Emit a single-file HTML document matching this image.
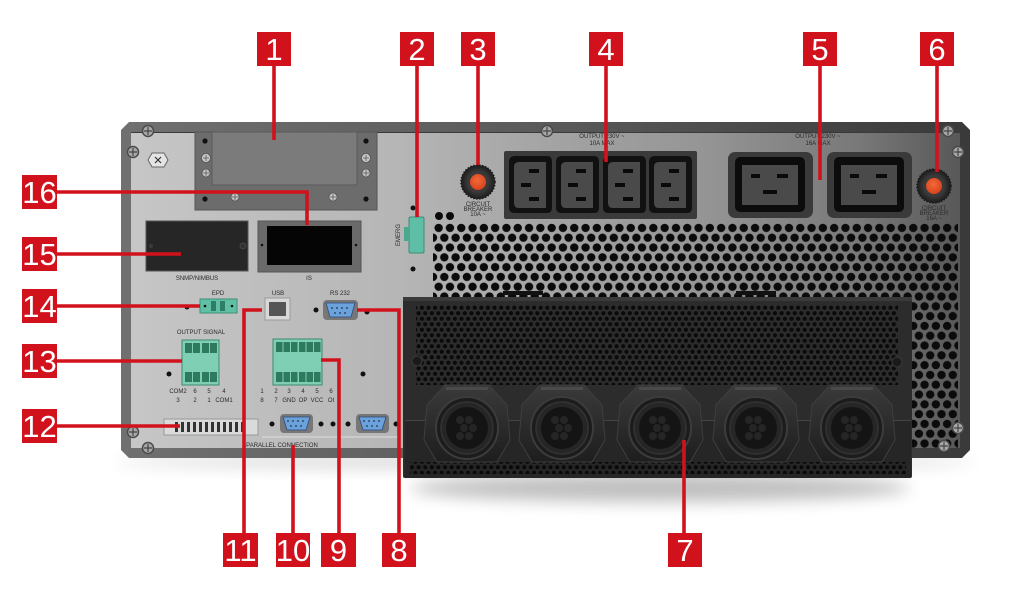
<!DOCTYPE html>
<html><head><meta charset="utf-8"><style>
html,body{margin:0;padding:0;background:#fff;}
svg{display:block;}
.lb{font-family:"Liberation Sans Narrow","Liberation Sans",sans-serif;font-size:31px;fill:#fff;text-anchor:middle;}
.t{font-family:"Liberation Sans Narrow","Liberation Sans",sans-serif;font-size:6px;fill:#2a2a2a;text-anchor:middle;}
</style></head><body>
<svg width="1024" height="605" viewBox="0 0 1024 605" xmlns="http://www.w3.org/2000/svg">
<defs>
<linearGradient id="face" x1="131" y1="0" x2="960" y2="0" gradientUnits="userSpaceOnUse">
<stop offset="0" stop-color="#c6c6c6"/><stop offset="0.32" stop-color="#b6b6b6"/><stop offset="0.5" stop-color="#a4a4a4"/><stop offset="0.69" stop-color="#959595"/><stop offset="0.88" stop-color="#787878"/><stop offset="1" stop-color="#585858"/>
</linearGradient>
<linearGradient id="frame" x1="121" y1="0" x2="970" y2="0" gradientUnits="userSpaceOnUse">
<stop offset="0" stop-color="#707070"/><stop offset="0.5" stop-color="#5a5a5a"/><stop offset="1" stop-color="#3a3a3a"/>
</linearGradient>
<pattern id="hc" x="433" y="223" width="11.3" height="19.6" patternUnits="userSpaceOnUse">
<circle cx="5.65" cy="4.9" r="4.2" fill="#0b0b0b"/><circle cx="0" cy="14.7" r="4.2" fill="#0b0b0b"/><circle cx="11.3" cy="14.7" r="4.2" fill="#0b0b0b"/>
</pattern>
<pattern id="sh" x="412" y="305" width="6.6" height="11" patternUnits="userSpaceOnUse">
<circle cx="3.3" cy="2.75" r="2.1" fill="#0a0a0a"/><circle cx="0" cy="8.25" r="2.1" fill="#0a0a0a"/><circle cx="6.6" cy="8.25" r="2.1" fill="#0a0a0a"/>
</pattern>
<filter id="blur" x="-20%" y="-100%" width="140%" height="300%"><feGaussianBlur stdDeviation="8"/></filter>
<radialGradient id="knob" cx="0.5" cy="0.5" r="0.5"><stop offset="0.6" stop-color="#3a3a3a"/><stop offset="1" stop-color="#1c1c1c"/></radialGradient>
<radialGradient id="orange" cx="0.45" cy="0.4" r="0.6"><stop offset="0" stop-color="#f26a3a"/><stop offset="1" stop-color="#d8421c"/></radialGradient>
<linearGradient id="nut" x1="0" y1="0" x2="0" y2="1"><stop offset="0" stop-color="#3a3a3a"/><stop offset="1" stop-color="#1e1e1e"/></linearGradient>
</defs>

<!-- shadows -->
<ellipse cx="545" cy="462" rx="430" ry="6" fill="#000" opacity="0.18" filter="url(#blur)"/>
<ellipse cx="660" cy="488" rx="250" ry="14" fill="#000" opacity="0.25" filter="url(#blur)"/>

<!-- panel -->
<path d="M129,122 L962,122 L970,130 L970,450 L962,458 L129,458 L121,450 L121,130 Z" fill="url(#frame)"/>
<rect x="131" y="132" width="829" height="316" fill="url(#face)"/>
<line x1="131" y1="132.5" x2="960" y2="132.5" stroke="#3a3a3a" stroke-width="1"/>

<!-- honeycomb vents -->
<path d="M433,223 L958,223 L958,448 L912,448 L912,297 L433,297 Z" fill="url(#hc)"/>
<circle cx="439" cy="216" r="4" fill="#0b0b0b"/><circle cx="450" cy="216" r="4" fill="#0b0b0b"/>
<rect x="503" y="291" width="40" height="4" fill="#111"/><rect x="736" y="291" width="40" height="4" fill="#111"/>

<!-- screws -->
<g fill="#a8a8a8" stroke="#4a4a4a" stroke-width="1.5">
<circle cx="148" cy="131" r="5.5"/><circle cx="133" cy="152" r="5.5"/><circle cx="547" cy="131" r="5.5"/>
<circle cx="948" cy="131" r="5.5"/><circle cx="958" cy="152" r="5.5"/><circle cx="958" cy="428" r="5.5"/><circle cx="944" cy="446" r="5.5"/>
<circle cx="133" cy="432" r="5.5"/><circle cx="148" cy="448" r="5.5"/>
</g>
<g stroke="#444" stroke-width="1.2">
<path d="M144,131h8M148,127v8M129,152h8M133,148v8M543,131h8M547,127v8M944,131h8M948,127v8M954,152h8M958,148v8M954,428h8M958,424v8M940,446h8M944,442v8M129,432h8M133,428v8M144,448h8M148,444v8"/>
</g>
<!-- hex bolt -->
<polygon points="152,153 164,153 168,160 164,167 152,167 148,160" fill="#e4e4e4" stroke="#666" stroke-width="1"/>
<path d="M155,157l6,6M161,157l-6,6" stroke="#333" stroke-width="1.2"/>

<!-- module 1 plate -->
<rect x="195" y="132" width="182" height="78" fill="#6c6c6c" stroke="#555" stroke-width="1"/>
<rect x="212" y="132" width="145" height="53" fill="#7b7b7b" stroke="#5e5e5e" stroke-width="1.2"/>
<g fill="#111"><circle cx="205" cy="141" r="2.6"/><circle cx="366" cy="141" r="2.6"/><circle cx="205" cy="199" r="2.6"/><circle cx="366" cy="199" r="2.6"/></g>
<g fill="#c8c8c8" stroke="#555" stroke-width="0.8">
<circle cx="206" cy="158" r="4.5"/><circle cx="206" cy="173" r="4"/><circle cx="366" cy="158" r="4.5"/><circle cx="366" cy="173" r="4"/><circle cx="235" cy="197" r="4"/><circle cx="333" cy="197" r="4"/>
</g>
<g stroke="#555" stroke-width="0.8"><path d="M203,158h6M206,155v6M363,158h6M366,155v6M232,197h6M235,194v6M330,197h6M333,194v6M203,173h6M206,170v6M363,173h6M366,170v6"/></g>

<!-- SNMP slot -->
<rect x="146" y="221" width="102" height="50" fill="#262626" stroke="#555" stroke-width="1"/>
<circle cx="151" cy="246" r="2" fill="#3a3a3a"/><circle cx="243" cy="246" r="3" fill="#333" stroke="#444"/>
<text class="t" x="197" y="280">SNMP/NIMBUS</text>
<!-- IS slot -->
<rect x="258" y="221" width="103" height="51" fill="#6a6a6a" stroke="#555" stroke-width="1"/>
<rect x="267" y="226" width="85" height="39" fill="#050505"/>
<circle cx="262" cy="245" r="1.3" fill="#111"/><circle cx="356" cy="245" r="1.3" fill="#111"/>
<text class="t" x="309" y="280">IS</text>

<!-- green connector 2 -->
<rect x="409" y="217" width="15" height="36" rx="1.5" fill="#5fbfa6" stroke="#3d8c76" stroke-width="1"/>
<rect x="404" y="227" width="6" height="14" fill="#4aa88f"/>
<text class="t" transform="translate(400,235) rotate(-90)" font-size="5">EMERG</text>
<circle cx="413" cy="208" r="2.5" fill="#111"/><circle cx="413" cy="269" r="2.5" fill="#111"/>

<!-- breaker 3 -->
<circle cx="478" cy="182" r="17" fill="url(#knob)" stroke="#1a1a1a" stroke-width="1.5" stroke-dasharray="1.5 1.5"/>
<circle cx="478" cy="182" r="8" fill="url(#orange)"/>
<text class="t" x="478" y="206" font-size="4.5">CIRCUIT</text>
<text class="t" x="478" y="211" font-size="4.5">BREAKER</text>
<text class="t" x="478" y="216" font-size="4.5">10A ~</text>

<!-- output text -->
<text class="t" x="602" y="138" font-size="5.5">OUTPUT 230V ~</text>
<text class="t" x="602" y="145" font-size="5.5">10A MAX</text>
<text class="t" x="818" y="138" font-size="5.5">OUTPUT 230V ~</text>
<text class="t" x="818" y="145" font-size="5.5">16A MAX</text>

<!-- C13 block -->
<rect x="504" y="151" width="193" height="68" rx="2" fill="#3a3a3a"/>
<g>
<g id="c13">
<path d="M509,162 Q509,156 515,156 L547,156 Q552,156 552,162 L552,208 Q552,213 547,213 L515,213 Q509,213 509,208 Z" fill="#111"/>
<path d="M519,162 L546,162 L546,208 L519,208 Q514,208 514,203 L514,167 Q514,162 519,162 Z" fill="#4a4a4a"/>
<rect x="529" y="169" width="10" height="4" fill="#0a0a0a"/><rect x="521" y="183" width="10" height="4" fill="#0a0a0a"/><rect x="529" y="197" width="10" height="4" fill="#0a0a0a"/>
</g>
<use href="#c13" x="47"/><use href="#c13" x="94"/><use href="#c13" x="140"/>
</g>

<!-- C19 -->
<g id="c19">
<rect x="728" y="152" width="85" height="66" rx="7" fill="#3a3a3a"/>
<rect x="735" y="157" width="70" height="55" rx="5" fill="#0c0c0c"/>
<rect x="742" y="165" width="56" height="40" fill="#4a4a4a"/>
<rect x="751" y="174" width="9" height="4" fill="#0a0a0a"/><rect x="777" y="174" width="11" height="4" fill="#0a0a0a"/><rect x="763" y="190" width="14" height="4" fill="#0a0a0a"/>
</g>
<use href="#c19" x="99"/>

<!-- breaker 6 -->
<circle cx="934" cy="186" r="17" fill="url(#knob)" stroke="#1a1a1a" stroke-width="1.5" stroke-dasharray="1.5 1.5"/>
<circle cx="934" cy="186" r="8" fill="url(#orange)"/>
<text class="t" x="934" y="210" font-size="4.5">CIRCUIT</text>
<text class="t" x="934" y="215" font-size="4.5">BREAKER</text>
<text class="t" x="934" y="220" font-size="4.5">16A ~</text>

<!-- black cover 7 -->
<rect x="403" y="297" width="509" height="181" rx="2" fill="#2c2c2c"/>
<rect x="403" y="297" width="509" height="4" fill="#3a3a3a"/>
<rect x="416" y="305" width="482" height="80" fill="url(#sh)"/>
<circle cx="417" cy="361" r="5" fill="#1a1a1a" stroke="#3a3a3a"/><circle cx="897" cy="362" r="5" fill="#1a1a1a" stroke="#3a3a3a"/>
<rect x="405" y="420" width="506" height="58" fill="#262626"/>
<line x1="405" y1="420.5" x2="911" y2="420.5" stroke="#444" stroke-width="1"/>
<rect x="410" y="462" width="496" height="12" fill="url(#sh)"/>

<!-- glands -->
<g id="gl">
<polygon points="445,385 489,385 507,405 510,440 497,462 437,462 424,440 427,405" fill="url(#nut)" stroke="#3e3e3e" stroke-width="1"/>
<rect x="446" y="387" width="42" height="3" fill="#4a4a4a"/>
<circle cx="467" cy="428" r="31" fill="#1c1c1c" stroke="#3c3c3c" stroke-width="2"/>
<circle cx="467" cy="428" r="26" fill="#262626" stroke="#333" stroke-width="1.5"/>
<circle cx="467" cy="428" r="21" fill="#141414"/>
<g fill="#252525"><circle cx="460" cy="420" r="4"/><circle cx="469" cy="420" r="4"/><circle cx="464" cy="428" r="4"/><circle cx="473" cy="428" r="4"/><circle cx="460" cy="436" r="4"/><circle cx="469" cy="436" r="4"/></g>
</g>
<use href="#gl" x="95"/><use href="#gl" x="193"/><use href="#gl" x="289"/><use href="#gl" x="385"/>

<!-- left panel controls -->
<text class="t" x="218" y="295">EPD</text>
<text class="t" x="278" y="295">USB</text>
<text class="t" x="340" y="295">RS 232</text>
<circle cx="187" cy="307" r="2.5" fill="#111"/>
<rect x="200" y="299" width="37" height="14" fill="#5fc0a5" stroke="#3e8f77" stroke-width="1"/>
<rect x="211" y="301" width="5" height="10" fill="#2f7d65"/><rect x="220" y="301" width="5" height="10" fill="#2f7d65"/>
<circle cx="205" cy="306" r="1.3" fill="#111"/><circle cx="232" cy="306" r="1.3" fill="#111"/>
<rect x="265" y="298" width="25" height="22" fill="#d8d8d8" stroke="#999" stroke-width="1"/>
<rect x="269" y="302" width="17" height="14" fill="#555"/>
<circle cx="316" cy="310" r="2.5" fill="#111"/>
<rect x="323" y="300" width="35" height="20" rx="4" fill="#777"/>
<path d="M326,303 L355,303 L351,317 L330,317 Z" fill="#6ca2dc" stroke="#2c4c78" stroke-width="0.8"/>
<g fill="#234"><circle cx="332" cy="308" r="0.9"/><circle cx="337" cy="308" r="0.9"/><circle cx="342" cy="308" r="0.9"/><circle cx="347" cy="308" r="0.9"/><circle cx="335" cy="313" r="0.9"/><circle cx="340" cy="313" r="0.9"/><circle cx="345" cy="313" r="0.9"/></g>
<circle cx="367" cy="312" r="2.5" fill="#111"/>

<text class="t" x="201" y="334">OUTPUT SIGNAL</text>
<rect x="182" y="340" width="37" height="45" fill="#7fcfb4" stroke="#3c8a70" stroke-width="1"/>
<g fill="#2e7a5f">
<rect x="185" y="343" width="7" height="10"/><rect x="193" y="343" width="7" height="10"/><rect x="202" y="343" width="7" height="10"/><rect x="210" y="343" width="7" height="10"/>
<rect x="185" y="372" width="7" height="10"/><rect x="193" y="372" width="7" height="10"/><rect x="202" y="372" width="7" height="10"/><rect x="210" y="372" width="7" height="10"/>
</g>
<circle cx="169" cy="374" r="2.5" fill="#111"/>
<text class="t" x="178" y="393" font-size="5">COM2</text><text class="t" x="195" y="393" font-size="5">6</text><text class="t" x="209" y="393" font-size="5">5</text><text class="t" x="224" y="393" font-size="5">4</text>
<text class="t" x="178" y="402" font-size="5">3</text><text class="t" x="195" y="402" font-size="5">2</text><text class="t" x="209" y="402" font-size="5">1</text><text class="t" x="224" y="402" font-size="5">COM1</text>
<rect x="273" y="339" width="49" height="46" fill="#7fcfb4" stroke="#3c8a70" stroke-width="1"/>
<g fill="#2e7a5f">
<rect x="276" y="342" width="6.5" height="10"/><rect x="283.5" y="342" width="6.5" height="10"/><rect x="291" y="342" width="6.5" height="10"/><rect x="299" y="342" width="6.5" height="10"/><rect x="306.5" y="342" width="6.5" height="10"/><rect x="314" y="342" width="6.5" height="10"/>
<rect x="276" y="372" width="6.5" height="10"/><rect x="283.5" y="372" width="6.5" height="10"/><rect x="291" y="372" width="6.5" height="10"/><rect x="299" y="372" width="6.5" height="10"/><rect x="306.5" y="372" width="6.5" height="10"/><rect x="314" y="372" width="6.5" height="10"/>
</g>
<circle cx="363" cy="374" r="2.5" fill="#111"/>
<text class="t" x="262" y="393" font-size="5">1</text><text class="t" x="276" y="393" font-size="5">2</text><text class="t" x="289" y="393" font-size="5">3</text><text class="t" x="303" y="393" font-size="5">4</text><text class="t" x="317" y="393" font-size="5">5</text><text class="t" x="331" y="393" font-size="5">6</text>
<text class="t" x="262" y="402" font-size="5">8</text><text class="t" x="276" y="402" font-size="5">7</text><text class="t" x="289" y="402" font-size="5">GND</text><text class="t" x="303" y="402" font-size="5">OP</text><text class="t" x="317" y="402" font-size="5">VCC</text><text class="t" x="331" y="402" font-size="5">OI</text>

<!-- DIP switch 12 -->
<rect x="164" y="419" width="94" height="16" fill="#dadada" stroke="#999" stroke-width="1"/>
<g fill="#333">
<rect x="175" y="422" width="3" height="10"/><rect x="181" y="422" width="3" height="10"/><rect x="187" y="422" width="3" height="10"/><rect x="193" y="422" width="3" height="10"/><rect x="199" y="422" width="3" height="10"/><rect x="205" y="422" width="3" height="10"/><rect x="211" y="422" width="3" height="10"/><rect x="217" y="422" width="3" height="10"/><rect x="223" y="422" width="3" height="10"/><rect x="229" y="422" width="3" height="10"/><rect x="235" y="422" width="3" height="10"/><rect x="241" y="422" width="3" height="10"/>
</g>

<!-- parallel connectors -->
<g id="db">
<rect x="280" y="414" width="33" height="19" rx="4" fill="#777"/>
<path d="M283,417 L310,417 L306,430 L287,430 Z" fill="#6ca2dc" stroke="#2c4c78" stroke-width="0.8"/>
<g fill="#234"><circle cx="288" cy="421" r="0.9"/><circle cx="293" cy="421" r="0.9"/><circle cx="298" cy="421" r="0.9"/><circle cx="303" cy="421" r="0.9"/><circle cx="291" cy="426" r="0.9"/><circle cx="296" cy="426" r="0.9"/><circle cx="301" cy="426" r="0.9"/></g>
</g>
<use href="#db" x="76"/>
<circle cx="272" cy="424" r="2.5" fill="#111"/><circle cx="321" cy="424" r="2.5" fill="#111"/><circle cx="333" cy="424" r="2.5" fill="#111"/><circle cx="348" cy="424" r="2.5" fill="#111"/><circle cx="396" cy="424" r="2.5" fill="#111"/>
<line x1="262" y1="437" x2="400" y2="437" stroke="#ddd" stroke-width="1"/>
<text class="t" x="282" y="447" font-size="5.5">PARALLEL CONNECTION</text>

<!-- leader lines -->
<g stroke="#d1121c" stroke-width="3.6" fill="none">
<path d="M274,66V140"/><path d="M417,66V217"/><path d="M478,66V165"/><path d="M606,66V162"/><path d="M820,66V180"/><path d="M937,66V172"/>
<path d="M57,192H307V225"/><path d="M57,254H181"/><path d="M57,306H200"/><path d="M57,361H182"/><path d="M57,426H180"/>
<path d="M244,533V310H262"/><path d="M293,533V445"/><path d="M339,533V360H321"/><path d="M399,533V310H357"/><path d="M684,533V440"/>
</g>

<!-- labels -->
<g fill="#d1121c">
<rect x="257" y="32" width="34" height="34"/><rect x="400" y="32" width="34" height="34"/><rect x="461" y="32" width="34" height="34"/><rect x="589" y="32" width="34" height="34"/><rect x="803" y="32" width="34" height="34"/><rect x="920" y="32" width="34" height="34"/>
<rect x="22" y="175" width="35" height="34"/><rect x="22" y="237" width="35" height="34"/><rect x="22" y="289" width="35" height="34"/><rect x="22" y="344" width="35" height="34"/><rect x="22" y="409" width="35" height="34"/>
<rect x="223" y="533" width="35" height="34"/><rect x="276" y="533" width="34" height="34"/><rect x="321" y="533" width="35" height="34"/><rect x="382" y="533" width="34" height="34"/><rect x="668" y="533" width="34" height="34"/>
</g>
<g>
<text class="lb" x="274" y="60">1</text><text class="lb" x="417" y="60">2</text><text class="lb" x="478" y="60">3</text><text class="lb" x="606" y="60">4</text><text class="lb" x="820" y="60">5</text><text class="lb" x="937" y="60">6</text>
<text class="lb" x="39.5" y="203">16</text><text class="lb" x="39.5" y="265">15</text><text class="lb" x="39.5" y="317">14</text><text class="lb" x="39.5" y="372">13</text><text class="lb" x="39.5" y="437">12</text>
<text class="lb" x="240.5" y="561">11</text><text class="lb" x="293" y="561">10</text><text class="lb" x="338.5" y="561">9</text><text class="lb" x="399" y="561">8</text><text class="lb" x="685" y="561">7</text>
</g>
</svg>
</body></html>
